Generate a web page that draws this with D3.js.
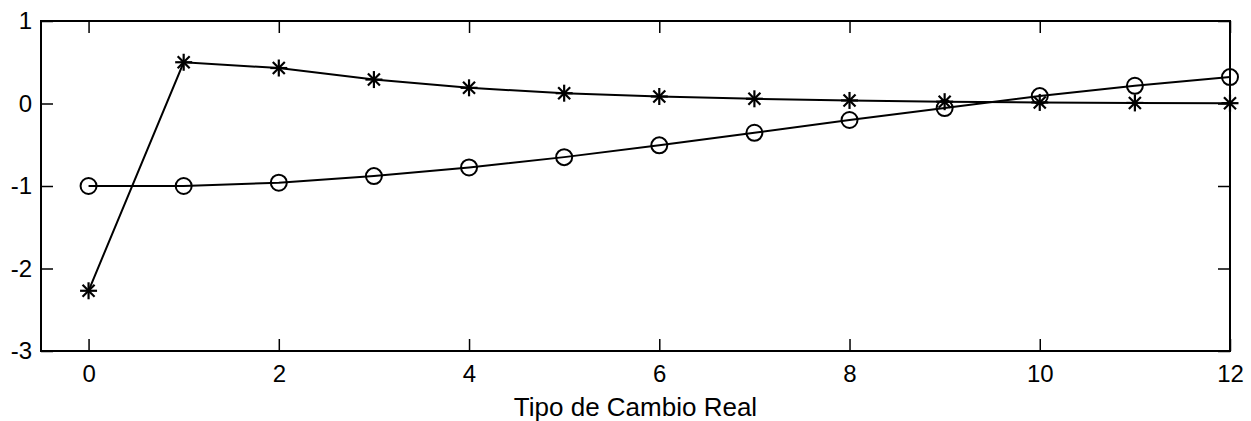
<!DOCTYPE html>
<html>
<head>
<meta charset="utf-8">
<script src="https://cdn.jsdelivr.net/npm/d3@7"></script>
<style>
  body { margin: 0; background: #fff; }
  svg text { font-family: "Liberation Sans", Arial, sans-serif; fill: #000; }
</style>
</head>
<body>
<svg id="chart"></svg>
<script>
const periods = [0, 1, 2, 3, 4, 5, 6, 7, 8, 9, 10, 11, 12];
const starSeries = [-2.27, 0.50, 0.43, 0.29, 0.19, 0.125, 0.085, 0.057, 0.037, 0.022, 0.013, 0.007, 0.004];
const circleSeries = [-1.0, -1.0, -0.96, -0.88, -0.775, -0.65, -0.507, -0.355, -0.20, -0.055, 0.09, 0.215, 0.32];
const xTicks = [0, 2, 4, 6, 8, 10, 12];
const yTicks = [-3, -2, -1, 0, 1];
const xLabel = "Tipo de Cambio Real";

const width = 1251, height = 421;
const margin = { top: 21, right: 21, bottom: 70, left: 41 };
const innerW = width - margin.left - margin.right;
const innerH = height - margin.top - margin.bottom;
const tickLen = 12;
const tickFont = 24;

// plain hyphen for negatives, like the original
const fmt = (d) => String(d);

const svg = d3.select("#chart")
  .attr("width", width)
  .attr("height", height);

const g = svg.append("g")
  .attr("transform", `translate(${margin.left},${margin.top})`);

const x = d3.scaleLinear().domain([-0.5, 12]).range([0, innerW]);
const y = d3.scaleLinear().domain([-3, 1]).range([innerH, 0]);

// axes (ticks inward, on all four sides)

const styleAxis = (sel) => {
  sel.attr("font-size", null).attr("font-family", null);
  sel.select(".domain").remove();
  sel.selectAll(".tick line").attr("stroke", "#000").attr("stroke-width", 1.5);
  sel.selectAll(".tick text").style("font-size", tickFont + "px");
};

g.append("g")
  .attr("transform", `translate(0,${innerH})`)
  .call(d3.axisBottom(x).tickValues(xTicks).tickFormat(fmt)
    .tickSizeInner(-tickLen).tickSizeOuter(0).tickPadding(14))
  .call(styleAxis);

g.append("g")
  .call(d3.axisTop(x).tickValues(xTicks).tickSizeInner(-tickLen).tickSizeOuter(0).tickFormat(""))
  .call(styleAxis);

g.append("g")
  .call(d3.axisLeft(y).tickValues(yTicks).tickFormat(fmt)
    .tickSizeInner(-tickLen).tickSizeOuter(0).tickPadding(9))
  .call(styleAxis);

g.append("g")
  .attr("transform", `translate(${innerW},0)`)
  .call(d3.axisRight(y).tickValues(yTicks).tickSizeInner(-tickLen).tickSizeOuter(0).tickFormat(""))
  .call(styleAxis);

g.append("rect")
  .attr("width", innerW)
  .attr("height", innerH)
  .attr("fill", "none")
  .attr("stroke", "#000")
  .attr("stroke-width", 2);

g.append("text")
  .attr("x", innerW / 2)
  .attr("y", innerH + 65)
  .attr("text-anchor", "middle")
  .style("font-size", "26px")
  .text(xLabel);

// lines

const line = d3.line()
  .x((d) => x(d[0]))
  .y((d) => y(d[1]));

const starData = periods.map((p, i) => [p, starSeries[i]]);
const circleData = periods.map((p, i) => [p, circleSeries[i]]);

[starData, circleData].forEach((data) => {
  g.append("path")
    .datum(data)
    .attr("fill", "none")
    .attr("stroke", "#000")
    .attr("stroke-width", 2)
    .attr("d", line);
});

// markers

g.selectAll("circle.marker")
  .data(circleData)
  .enter().append("circle")
  .attr("class", "marker")
  .attr("cx", (d) => x(d[0]))
  .attr("cy", (d) => y(d[1]))
  .attr("r", 8)
  .attr("fill", "none")
  .attr("stroke", "#000")
  .attr("stroke-width", 2);

const starSize = 8.5;
const star = g.selectAll("g.star")
  .data(starData)
  .enter().append("g")
  .attr("class", "star")
  .attr("transform", (d) => `translate(${x(d[0])},${y(d[1])})`);

[0, 45, 90, 135].forEach((a) => {
  star.append("line")
    .attr("x1", -starSize).attr("x2", starSize)
    .attr("y1", 0).attr("y2", 0)
    .attr("transform", `rotate(${a})`)
    .attr("stroke", "#000")
    .attr("stroke-width", 2.2);
});
</script>
</body>
</html>
